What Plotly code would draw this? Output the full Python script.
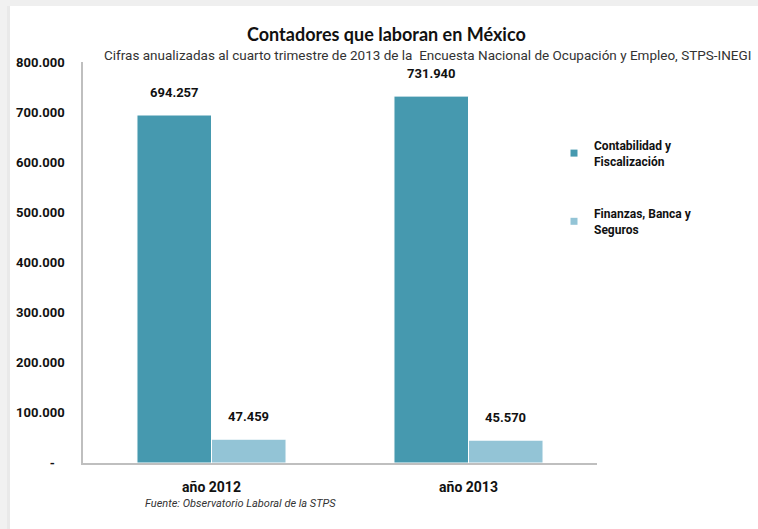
import plotly.graph_objects as go

# Data
categories = ["año 2012", "año 2013"]
series_names = ["<b>Contabilidad y<br>Fiscalización</b>", "<b>Finanzas, Banca y<br>Seguros</b>"]
contabilidad = [694257, 731940]
finanzas = [47459, 45570]
colors = ["#4699AF", "#93C4D6"]
y_ticks = [0, 100000, 200000, 300000, 400000, 500000, 600000, 700000, 800000]


def fmt_es(v):
    return f"{v:,}".replace(",", ".")


tick_text = ["-\u00a0\u00a0\u00a0" if v == 0 else fmt_es(v) for v in y_ticks]

# Figure geometry (pixels)
W, H = 758, 529
L, R, T, B = 83, 161, 62, 66
PW, PH = W - L - R, H - T - B

BARGAP = 0.42
half = (1 - BARGAP) / 4  # offset of each bar centre from the category centre

FONT = "Roboto, sans-serif"


def px_x(x):
    return (x - L) / PW


def px_y(y):
    return (H - B - y) / PH


fig = go.Figure()
for name, vals, col in zip(series_names, [contabilidad, finanzas], colors):
    fig.add_trace(go.Bar(
        x=categories, y=vals, name=name, marker=dict(color=col, line=dict(color="white", width=1)),
        showlegend=False, hoverinfo="x+y",
    ))
    # small square legend swatch
    fig.add_trace(go.Scatter(
        x=[None], y=[None], mode="markers", name=name, legendgroup=name,
        marker=dict(symbol="square", size=7, color=col),
    ))

annotations = []
for series, sign in [(contabilidad, -1), (finanzas, 1)]:
    for i, v in enumerate(series):
        annotations.append(dict(
            x=i + sign * half, y=v, xref="x", yref="y", text=f"<b>{fmt_es(v)}</b>",
            showarrow=False, yshift=23, font=dict(family=FONT, size=13, color="#111111"),
        ))

annotations += [
    dict(text="<b>Contadores que laboran en México</b>", x=px_x(386), y=px_y(34),
         xref="paper", yref="paper", xanchor="center", yanchor="middle", showarrow=False,
         font=dict(family="Lato, sans-serif", size=18, color="#111111")),
    dict(text="Cifras anualizadas al cuarto trimestre de 2013 de la  Encuesta Nacional de Ocupación y Empleo, STPS-INEGI",
         x=px_x(427), y=px_y(55), xref="paper", yref="paper", xanchor="center", yanchor="middle", showarrow=False,
         font=dict(family=FONT, size=13.5, color="#333333")),
    dict(text="<i>Fuente: Observatorio Laboral de la STPS</i>", x=px_x(240), y=px_y(503),
         xref="paper", yref="paper", xanchor="center", yanchor="middle", showarrow=False,
         font=dict(family=FONT, size=11, color="#333333")),
]

# soft grey frame on the left and top edges
shapes = []


def px_rect(x0, y0, x1, y1, color):
    return dict(type="rect", xref="paper", yref="paper", layer="below", line=dict(width=0), fillcolor=color,
                x0=px_x(x0), x1=px_x(x1), y0=px_y(y1), y1=px_y(y0))


shapes.append(px_rect(0, 0, W, 6, "#efefef"))
shapes.append(px_rect(0, 0, 10, H, "#f1f1f1"))
shapes.append(px_rect(7, 6, 10, H, "#e9e9e9"))

fig.update_layout(
    width=W, height=H, margin=dict(l=L, r=R, t=T, b=B),
    paper_bgcolor="white", plot_bgcolor="white",
    separators=",.",
    barmode="group", bargap=BARGAP, bargroupgap=0,
    font=dict(family=FONT, color="#111111"),
    legend=dict(x=px_x(554), y=px_y(131), xanchor="left", yanchor="top",
                tracegroupgap=34, font=dict(family=FONT, size=12, color="#111111"),
                bgcolor="rgba(0,0,0,0)", itemwidth=30),
    xaxis=dict(showline=True, linecolor="#BFBFBF", linewidth=1.5, ticks="", showgrid=False,
               tickfont=dict(family=FONT, size=14, color="#111111"), ticklabelstandoff=10,
               tickprefix="<b>", ticksuffix="</b>"),
    yaxis=dict(range=[0, 800000], tickvals=y_ticks, ticktext=[f"<b>{t}</b>" for t in tick_text],
               showline=True, linecolor="#BFBFBF", linewidth=1.5, ticks="", showgrid=False, zeroline=False,
               tickfont=dict(family=FONT, size=13, color="#111111"), ticklabelstandoff=14),
    annotations=annotations, shapes=shapes,
)

fig.write_html("out.html")
